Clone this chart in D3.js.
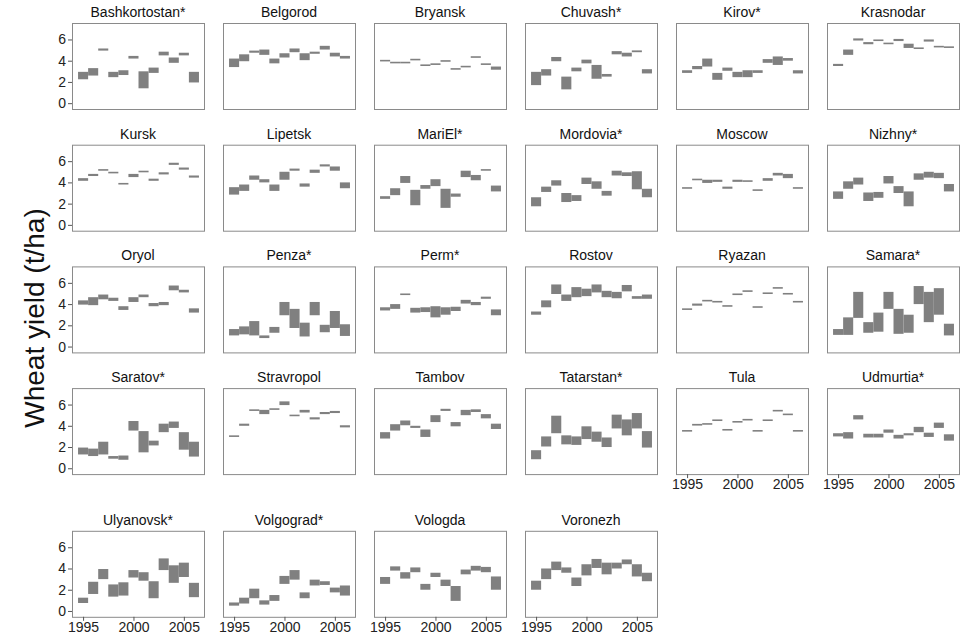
<!DOCTYPE html>
<html>
<head>
<meta charset="utf-8">
<script src="https://cdn.jsdelivr.net/npm/d3@7"></script>
<style>
  body { margin: 0; background: #fff; }
  svg { font-family: "Liberation Sans", Arial, sans-serif; }
</style>
</head>
<body>
<div id="chart"></div>
<script>
// data: one range (min - max yield) per region and year
const regions = ["Bashkortostan*", "Belgorod", "Bryansk", "Chuvash*", "Kirov*", "Krasnodar",
  "Kursk", "Lipetsk", "MariEl*", "Mordovia*", "Moscow", "Nizhny*",
  "Oryol", "Penza*", "Perm*", "Rostov", "Ryazan", "Samara*",
  "Saratov*", "Stravropol", "Tambov", "Tatarstan*", "Tula", "Udmurtia*",
  "Ulyanovsk*", "Volgograd*", "Vologda", "Voronezh"];
const years = [1995, 1996, 1997, 1998, 1999, 2000, 2001, 2002, 2003, 2004, 2005, 2006];
const yearTicks = [1995, 2000, 2005];
const yieldTicks = [0, 2, 4, 6];

const yieldLow = [
  [2.25, 2.6, 4.95, 2.45, 2.65, 4.2, 1.4, 2.85, 4.5, 3.8, 4.5, 1.95],
  [3.4, 3.95, 4.75, 4.55, 3.75, 4.3, 4.8, 4.05, 4.65, 5.05, 4.4, 4.2],
  [3.98, 3.8, 3.78, 4.08, 3.55, 3.65, 3.96, 3.2, 3.42, 4.28, 3.65, 3.15],
  [1.7, 2.6, 3.95, 1.3, 3.0, 3.75, 2.3, 2.5, 4.6, 4.4, 4.8, 2.8],
  [2.85, 3.2, 3.45, 2.2, 3.05, 2.45, 2.45, 2.85, 3.8, 3.6, 4.0, 2.8],
  [3.5, 4.55, 5.9, 5.55, 5.9, 5.55, 5.85, 5.2, 5.1, 5.8, 5.3, 5.2],
  [4.15, 4.6, 5.1, 4.85, 3.8, 4.5, 4.95, 4.15, 4.75, 5.65, 5.2, 4.45],
  [2.85, 3.2, 4.25, 4.0, 3.2, 4.25, 5.1, 3.6, 4.9, 5.5, 5.1, 3.45],
  [2.45, 2.8, 3.95, 1.85, 3.4, 3.65, 1.6, 2.65, 4.5, 4.2, 5.1, 3.15],
  [1.75, 3.1, 3.7, 2.15, 2.25, 3.85, 3.4, 2.75, 4.65, 4.6, 3.35, 2.6],
  [3.4, 4.2, 3.95, 4.05, 3.4, 4.05, 4.05, 3.2, 4.15, 4.65, 4.4, 3.4],
  [2.45, 3.4, 3.8, 2.25, 2.55, 3.9, 3.0, 1.75, 4.25, 4.45, 4.4, 3.15],
  [3.95, 3.9, 4.45, 4.3, 3.45, 4.2, 4.65, 3.8, 3.9, 5.3, 5.1, 3.2],
  [1.05, 1.15, 1.05, 0.8, 1.3, 2.95, 1.75, 0.95, 2.95, 1.35, 1.75, 1.0],
  [3.4, 3.55, 4.85, 3.2, 3.25, 2.75, 3.0, 3.35, 4.05, 3.9, 4.5, 2.95],
  [3.0, 3.7, 4.95, 4.3, 4.65, 4.75, 5.1, 4.65, 4.55, 5.2, 4.5, 4.5],
  [3.5, 3.85, 4.3, 4.2, 3.8, 4.9, 5.15, 3.7, 5.0, 5.45, 4.95, 4.2],
  [1.1, 1.1, 2.7, 1.3, 1.4, 3.55, 1.2, 1.3, 4.0, 2.3, 3.0, 1.05],
  [1.3, 1.15, 1.3, 0.9, 0.8, 3.55, 1.5, 2.15, 3.4, 3.8, 1.75, 1.1],
  [2.95, 4.0, 5.4, 5.1, 5.5, 5.95, 4.9, 5.25, 4.6, 5.1, 5.2, 3.85],
  [2.8, 3.55, 4.05, 3.8, 2.95, 4.35, 5.4, 3.95, 5.0, 5.3, 4.7, 3.7],
  [0.85, 2.05, 3.3, 2.25, 2.2, 2.75, 2.5, 2.0, 3.75, 3.1, 3.75, 1.95],
  [3.5, 4.02, 4.15, 4.5, 3.6, 4.35, 4.55, 3.5, 4.5, 5.4, 5.05, 3.5],
  [3.0, 2.8, 4.6, 2.9, 2.9, 3.35, 2.8, 3.1, 3.4, 2.95, 3.8, 2.6],
  [0.75, 1.6, 3.0, 1.35, 1.45, 3.15, 2.85, 1.2, 3.85, 2.65, 3.2, 1.3],
  [0.5, 0.7, 1.2, 0.6, 0.95, 2.55, 2.95, 1.2, 2.4, 2.45, 1.75, 1.45],
  [2.55, 3.8, 3.05, 3.65, 2.0, 3.2, 2.35, 0.95, 3.45, 3.8, 3.65, 2.0],
  [2.0, 3.0, 3.85, 3.6, 2.35, 3.35, 4.05, 3.45, 4.0, 4.4, 3.25, 2.8]
];

const yieldHigh = [
  [2.95, 3.3, 5.15, 2.95, 3.1, 4.45, 3.0, 3.35, 4.85, 4.3, 4.75, 2.95],
  [4.2, 4.6, 4.95, 5.05, 4.2, 4.7, 5.15, 4.7, 4.85, 5.4, 4.75, 4.45],
  [4.08, 3.9, 3.9, 4.18, 3.65, 3.75, 4.05, 3.3, 3.52, 4.42, 3.75, 3.45],
  [2.95, 3.2, 4.35, 2.5, 3.35, 4.1, 3.6, 2.75, 4.9, 4.75, 4.97, 3.2],
  [3.1, 3.5, 4.2, 2.85, 3.35, 2.95, 3.1, 3.1, 4.15, 4.4, 4.25, 3.1],
  [3.7, 5.05, 6.1, 5.75, 6.0, 5.7, 6.05, 5.6, 5.25, 6.0, 5.4, 5.35],
  [4.4, 4.8, 5.25, 5.0, 3.95, 4.8, 5.1, 4.35, 4.95, 5.85, 5.4, 4.65],
  [3.55, 3.8, 4.65, 4.3, 3.8, 5.0, 5.3, 3.9, 5.2, 5.7, 5.5, 4.0],
  [2.7, 3.45, 4.6, 3.3, 3.75, 4.3, 3.4, 2.95, 5.1, 4.7, 5.25, 3.7],
  [2.6, 3.6, 4.2, 3.0, 2.8, 4.45, 4.1, 3.2, 5.1, 4.95, 5.05, 3.4],
  [3.55, 4.35, 4.25, 4.25, 3.6, 4.25, 4.2, 3.35, 4.4, 4.9, 4.8, 3.55],
  [3.15, 4.1, 4.45, 3.05, 3.1, 4.6, 3.65, 3.15, 4.85, 5.0, 4.9, 3.85],
  [4.35, 4.65, 4.9, 4.6, 3.8, 4.65, 4.9, 4.1, 4.2, 5.75, 5.35, 3.6],
  [1.65, 1.9, 2.4, 1.05, 1.85, 4.2, 3.55, 2.25, 4.2, 2.05, 3.35, 2.1],
  [3.7, 4.0, 5.0, 3.65, 3.7, 3.8, 3.7, 3.75, 4.4, 4.2, 4.7, 3.5],
  [3.3, 4.35, 5.85, 4.9, 5.6, 5.45, 5.85, 5.25, 5.15, 5.8, 4.75, 4.9],
  [3.6, 4.05, 4.4, 4.3, 3.9, 5.0, 5.3, 3.8, 5.1, 5.6, 5.05, 4.3],
  [1.65, 2.75, 5.15, 2.3, 3.2, 5.15, 3.55, 3.0, 5.7, 5.15, 5.5, 2.15],
  [1.95, 1.85, 2.5, 1.15, 1.2, 4.45, 3.5, 2.6, 4.2, 4.4, 3.4, 2.5],
  [3.1, 4.2, 5.55, 5.5, 5.65, 6.3, 5.05, 5.5, 4.8, 5.3, 5.4, 4.05],
  [3.4, 4.15, 4.5, 4.0, 3.65, 5.0, 5.6, 4.35, 5.5, 5.55, 5.1, 4.2],
  [1.7, 3.0, 4.95, 3.1, 3.0, 3.95, 3.45, 2.9, 5.05, 4.6, 5.2, 3.5],
  [3.6, 4.18, 4.25, 4.6, 3.7, 4.45, 4.65, 3.6, 4.6, 5.5, 5.15, 3.6],
  [3.3, 3.4, 5.0, 3.25, 3.25, 3.65, 3.15, 3.3, 3.9, 3.35, 4.3, 3.2],
  [1.25, 2.75, 3.95, 2.5, 2.7, 3.85, 3.65, 2.8, 4.95, 4.3, 4.55, 2.65],
  [0.8, 1.25, 2.1, 1.0, 1.5, 3.3, 3.85, 1.75, 2.95, 2.8, 2.2, 2.4],
  [3.2, 4.2, 3.65, 4.1, 2.55, 3.6, 2.95, 2.35, 3.9, 4.25, 4.15, 3.25],
  [2.85, 4.0, 4.65, 4.1, 3.15, 4.4, 4.9, 4.55, 4.55, 4.85, 4.4, 3.6]
];

// layout
const W = 961, H = 637;
const nCols = 6;
const panelW = 132, panelH = 86;
const colStep = 151, rowStep = 121.7;
const left0 = 72, top0 = 23;
const axisGap = 21; // extra room under row 4 for the x labels of Tula / Udmurtia

const svg = d3.select("#chart").append("svg")
  .attr("width", W)
  .attr("height", H);

const x = d3.scaleLinear().domain([1993.9, 2007.0]).range([0, panelW]);
const y = d3.scaleLinear().domain([-0.55, 7.55]).range([panelH, 0]);
const barW = x(1996) - x(1995);

regions.forEach((name, i) => {
  const col = i % nCols;
  const row = Math.floor(i / nCols);
  const px = left0 + col * colStep;
  const py = top0 + row * rowStep + (row >= 4 ? axisGap : 0);

  const g = svg.append("g").attr("transform", `translate(${px},${py})`);

  const rows = years.map((yr, j) => ({ year: yr, lo: yieldLow[i][j], hi: yieldHigh[i][j] }));

  g.selectAll("rect.bar")
    .data(rows)
    .enter()
    .append("rect")
    .attr("class", "bar")
    .attr("x", d => x(d.year) - barW / 2)
    .attr("width", barW)
    .attr("y", d => y(d.hi))
    .attr("height", d => Math.max(1.6, y(d.lo) - y(d.hi)))
    .style("fill", "#808080");

  // panel frame
  g.append("rect")
    .attr("x", 0.5).attr("y", 0.5)
    .attr("width", panelW).attr("height", panelH)
    .style("fill", "none")
    .style("stroke", "#8a8a8a")
    .style("stroke-width", 1);

  // strip title
  g.append("text")
    .attr("x", panelW / 2)
    .attr("y", -6)
    .attr("text-anchor", "middle")
    .style("font-size", "14px")
    .style("fill", "#111")
    .text(name);

  // y axis only on first column
  if (col === 0) {
    const ya = g.append("g")
      .call(d3.axisLeft(y).tickValues(yieldTicks).tickSize(4).tickPadding(2));
    ya.select(".domain").remove();
    ya.selectAll("line").style("stroke", "#555");
    ya.selectAll("text").style("font-size", "14px").style("fill", "#222")
      .style("font-family", "\"Liberation Sans\", Arial, sans-serif");
  }

  // x axis under the last panel of each column
  if (i + nCols >= regions.length) {
    const xa = g.append("g")
      .attr("transform", `translate(0,${panelH})`)
      .call(d3.axisBottom(x).tickValues(yearTicks).tickFormat(d3.format("d")).tickSize(4).tickPadding(1));
    xa.select(".domain").remove();
    xa.selectAll("line").style("stroke", "#555");
    xa.selectAll("text").style("font-size", "14px").style("fill", "#222")
      .style("font-family", "\"Liberation Sans\", Arial, sans-serif");
  }
});

// y axis title
svg.append("text")
  .attr("transform", "translate(34,318) rotate(-90)")
  .attr("text-anchor", "middle")
  .attr("dy", "0.35em")
  .style("font-size", "28px")
  .style("fill", "#111")
  .text("Wheat yield (t/ha)");
</script>
</body>
</html>
